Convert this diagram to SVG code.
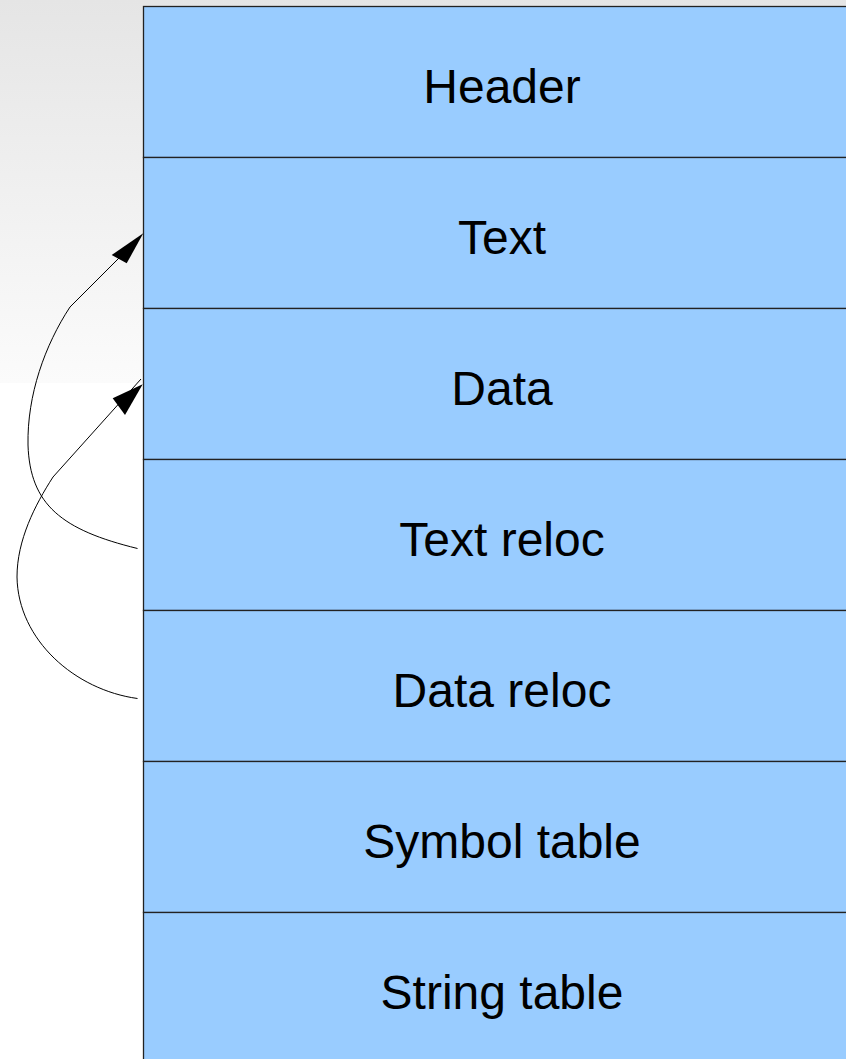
<svg xmlns="http://www.w3.org/2000/svg" width="846" height="1059" viewBox="0 0 846 1059">
<defs>
<linearGradient id="bg" x1="0" y1="0" x2="0" y2="1">
<stop offset="0" stop-color="#e5e5e5"/>
<stop offset="1" stop-color="#fbfbfb"/>
</linearGradient>
<style>
.box{fill:#99ccff;stroke:#222;stroke-width:1.3}
.lbl{font-family:"Liberation Sans",Arial,sans-serif;font-size:48px;fill:#000;text-anchor:middle}
.con{fill:none;stroke:#000;stroke-width:1}
.head{fill:#000;stroke:none}
</style>
</defs>
<rect x="0" y="0" width="846" height="1059" fill="#fff"/>
<rect x="0" y="0" width="846" height="383" fill="url(#bg)"/>
<g id="header"><rect class="box" x="143.5" y="6.5" width="720" height="151"/><text class="lbl" x="502" y="103">Header</text></g>
<g id="text"><rect class="box" x="143.5" y="157.5" width="720" height="151"/><text class="lbl" x="502" y="254">Text</text></g>
<g id="data"><rect class="box" x="143.5" y="308.5" width="720" height="151"/><text class="lbl" x="502" y="405">Data</text></g>
<g id="text-reloc"><rect class="box" x="143.5" y="459.5" width="720" height="151"/><text class="lbl" x="502" y="556">Text reloc</text></g>
<g id="data-reloc"><rect class="box" x="143.5" y="610.5" width="720" height="151"/><text class="lbl" x="502" y="707">Data reloc</text></g>
<g id="symbol-table"><rect class="box" x="143.5" y="761.5" width="720" height="151"/><text class="lbl" x="502" y="858">Symbol table</text></g>
<g id="string-table"><rect class="box" x="143.5" y="912.5" width="720" height="151"/><text class="lbl" x="502" y="1009">String table</text></g>
<g id="connectors">
<path class="con" d="M137.5,548.5 C 62,530 30,505 28,445 C 27,395 45,345 70,307 L 121,256"/>
<polygon class="head" points="143.3,233.3 111.7,255 126.7,263.3"/>
<path class="con" d="M137.5,698.5 C 75,690 18,640 17,577 C 17,540 35,505 53,477 L 141,379"/>
<polygon class="head" points="142.7,384.3 112.7,398.3 125,415"/>
</g>
</svg>
